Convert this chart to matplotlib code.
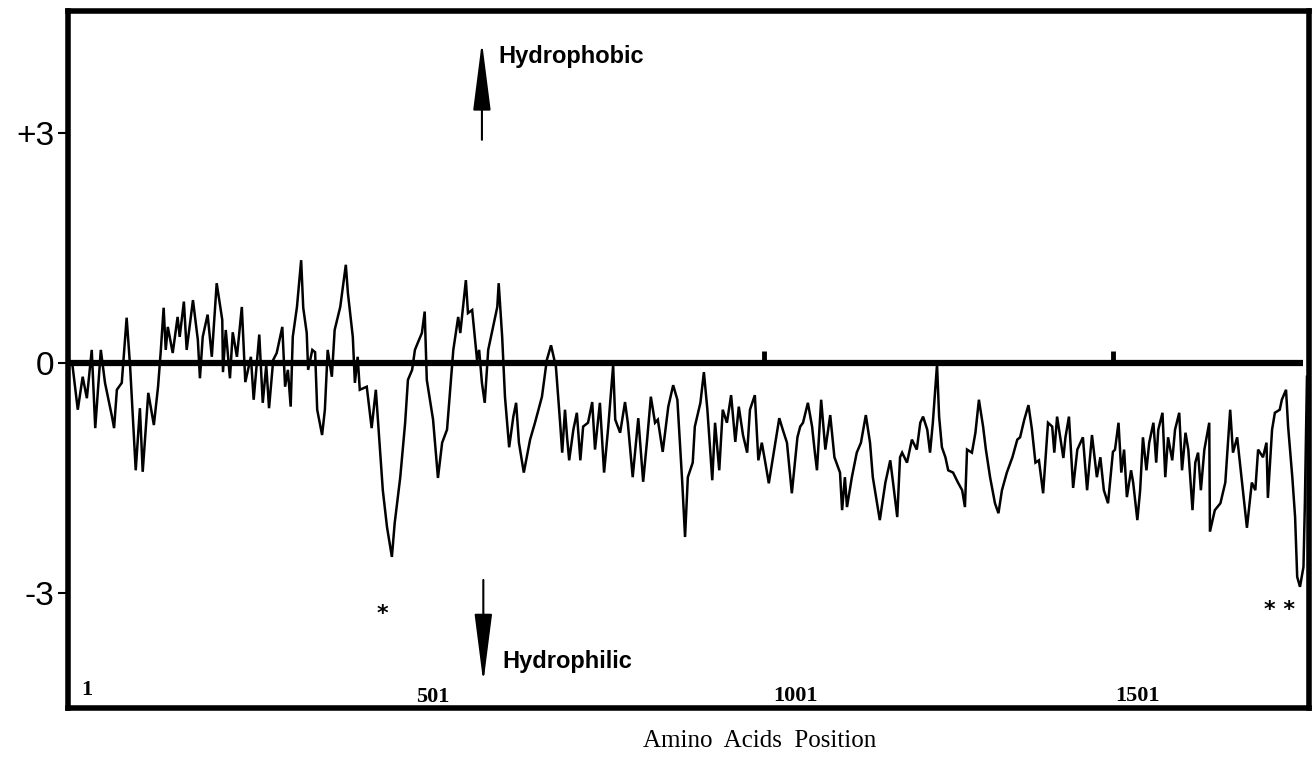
import matplotlib.pyplot as plt
import numpy as np

# hydropathy profile, residue number vs. score
pos_a = [9, 17, 24, 30, 37, 42, 50, 56, 66, 69, 73, 80, 87, 92, 100, 106, 110, 118, 126, 132,
         136, 140, 143, 146, 153, 160, 163, 169, 173, 182, 189, 192, 196, 203, 209, 216, 224, 225, 229, 235,
         239, 245, 252, 257, 265, 269, 277, 282, 287, 291, 297]
hyd_a = [0.00, -0.61, -0.18, -0.46, 0.17, -0.85, 0.17, -0.26, -0.70, -0.85, -0.35, -0.26, 0.59, -0.05, -1.40, -0.59, -1.42, -0.39, -0.81, -0.31,
         0.17, 0.72, 0.17, 0.47, 0.13, 0.60, 0.34, 0.80, 0.17, 0.82, 0.30, -0.20, 0.34, 0.63, 0.08, 1.04, 0.56, -0.12, 0.43, -0.20,
         0.40, 0.08, 0.73, -0.25, 0.08, -0.48, 0.37, -0.52, -0.03, -0.59, 0.04]

pos_b = [302, 310, 314, 318, 322, 325, 331, 337, 340, 345, 347, 353, 357, 360, 367, 371, 375, 381, 385, 393,
         401, 404, 411, 414, 418, 421, 431, 438, 444, 450, 454, 460, 467, 471, 479, 486, 490, 496, 500, 504,
         510, 514, 517, 526, 533, 539, 546, 553, 555, 562, 565, 573, 576, 582, 589, 592, 596]
hyd_b = [0.13, 0.47, -0.31, -0.09, -0.57, 0.34, 0.73, 1.34, 0.72, 0.39, -0.09, 0.17, 0.14, -0.61, -0.94, -0.61, 0.17, -0.18, 0.43, 0.73,
         1.28, 0.91, 0.34, -0.26, 0.08, -0.35, -0.31, -0.85, -0.35, -1.13, -1.66, -2.14, -2.53, -2.09, -1.49, -0.78, -0.22, -0.09, 0.17, 0.26,
         0.39, 0.67, -0.22, -0.74, -1.50, -1.04, -0.87, -0.05, 0.17, 0.60, 0.39, 1.08, 0.65, 0.69, 0.04, 0.17, -0.26]

pos_c = [600, 605, 612, 618, 620, 625, 629, 635, 641, 645, 649, 656, 665, 672, 682, 689, 695, 702, 708, 711,
         715, 718, 721, 727, 732, 737, 741, 748, 754, 758, 765, 771, 777, 784, 787, 794, 801, 805, 812, 820,
         827, 833, 838, 844, 848, 855, 863, 870, 876, 883, 887, 891, 898]
hyd_c = [-0.52, 0.17, 0.47, 0.73, 1.04, 0.34, -0.44, -1.10, -0.70, -0.52, -1.04, -1.43, -1.00, -0.78, -0.44, 0.04, 0.23, -0.05, -0.78, -1.17,
         -0.61, -0.97, -1.27, -0.87, -0.65, -1.27, -0.83, -0.78, -0.51, -1.13, -0.52, -1.43, -0.83, -0.03, -0.74, -0.91, -0.51, -0.78, -1.49, -0.72,
         -1.55, -0.97, -0.44, -0.78, -0.74, -1.16, -0.57, -0.29, -0.48, -1.56, -2.27, -1.49, -1.30]

pos_d = [901, 909, 914, 919, 926, 930, 936, 941, 947, 953, 959, 964, 970, 976, 980, 987, 992, 997, 1002, 1007,
         1013, 1022, 1027, 1033, 1040, 1048, 1052, 1056, 1063, 1069, 1073, 1076, 1082, 1088, 1095, 1101, 1109, 1112, 1116, 1119,
         1126, 1133, 1139, 1146, 1152, 1156, 1166, 1174, 1181, 1185, 1191, 1195]
hyd_d = [-0.83, -0.52, -0.12, -0.61, -1.53, -0.78, -1.40, -0.61, -0.78, -0.42, -1.03, -0.57, -0.94, -1.17, -0.61, -0.42, -1.27, -1.04, -1.30, -1.57,
         -1.23, -0.72, -0.87, -1.04, -1.70, -0.97, -0.83, -0.78, -0.52, -0.83, -1.17, -1.40, -0.48, -1.13, -0.68, -1.23, -1.43, -1.92, -1.49, -1.88,
         -1.49, -1.17, -1.04, -0.68, -1.04, -1.49, -2.05, -1.56, -1.27, -1.56, -2.01, -1.23]

pos_e = [1198, 1205, 1212, 1219, 1224, 1228, 1234, 1238, 1242, 1248, 1251, 1255, 1260, 1264, 1271, 1278, 1284, 1288, 1291, 1298,
         1303, 1308, 1314, 1318, 1324, 1331, 1336, 1341, 1348, 1356, 1363, 1367, 1373, 1379, 1384, 1389, 1394, 1400, 1407, 1413,
         1416, 1420, 1429, 1432, 1437, 1443, 1449, 1457, 1463, 1470, 1477, 1482]
hyd_e = [-1.17, -1.30, -1.00, -1.13, -0.78, -0.70, -0.87, -1.17, -0.78, -0.02, -0.70, -1.10, -1.23, -1.40, -1.43, -1.56, -1.66, -1.88, -1.13, -1.17,
         -0.91, -0.48, -0.83, -1.13, -1.49, -1.83, -1.96, -1.66, -1.43, -1.23, -1.00, -0.97, -0.74, -0.55, -0.87, -1.30, -1.27, -1.70, -0.78, -0.83,
         -1.17, -0.70, -1.24, -0.97, -0.70, -1.63, -1.13, -0.97, -1.66, -0.94, -1.49, -1.23]

pos_f = [1487, 1493, 1500, 1503, 1508, 1512, 1516, 1520, 1526, 1529, 1535, 1539, 1543, 1548, 1552, 1558, 1562, 1565, 1571, 1575,
         1579, 1585, 1589, 1595, 1599, 1604, 1608, 1614, 1618, 1622, 1626, 1631, 1638, 1639, 1646, 1654, 1661, 1668, 1672, 1678,
         1685, 1692, 1699, 1704, 1708, 1715, 1720, 1722, 1728, 1732, 1739, 1742, 1748, 1751, 1757, 1761, 1764, 1768, 1773, 1775,
         1778]
hyd_f = [-1.66, -1.83, -1.16, -1.13, -0.78, -1.43, -1.13, -1.75, -1.40, -1.56, -2.05, -1.66, -0.97, -1.40, -1.04, -0.78, -1.30, -0.87, -0.65, -1.49,
         -0.97, -1.27, -0.87, -0.65, -1.40, -0.91, -1.13, -1.92, -1.30, -1.17, -1.66, -1.13, -0.78, -2.20, -1.92, -1.83, -1.56, -0.61, -1.17, -0.97,
         -1.56, -2.15, -1.56, -1.66, -1.13, -1.23, -1.04, -1.76, -0.87, -0.65, -0.61, -0.48, -0.35, -0.83, -1.49, -2.01, -2.79, -2.92, -2.66, -1.83,
         -0.18]

res_labels = ['1', '501', '1001', '1501']
marks = [1000, 1500]

pos = np.concatenate([pos_a, pos_b, pos_c, pos_d, pos_e, pos_f])
hyd = np.concatenate([hyd_a, hyd_b, hyd_c, hyd_d, hyd_e, hyd_f])

fig = plt.figure(figsize=(13.13, 7.63), dpi=100)
ax = fig.add_axes([0.0518, 0.0721, 0.9452, 0.9135])

ax.plot(pos, hyd, color='black', lw=1.8, solid_joinstyle='miter')
ax.hlines(0, 3, 1773, color='black', lw=4.5)
ax.vlines(marks, 0, 0.15, color='black', lw=3.5)

ax.set_xlim(3, 1781)
ax.set_ylim(-4.50, 4.59)
for s in ax.spines.values():
    s.set_linewidth(4)

ax.set_xticks([])
ax.set_yticks([-3, 0, 3], ['-3', '0', '+3'])
ax.tick_params(axis='y', length=7, width=1.5, pad=3, labelsize=24)
for t in ax.get_yticklabels():
    t.set_family('Liberation Sans')

# residue numbers printed inside the frame
for lab, x, y in zip(res_labels, [30, 525, 1045, 1535], [-4.27, -4.36, -4.34, -4.34]):
    ax.text(x, y, lab, ha='center', va='center', fontsize=16,
            fontweight='bold', family='Liberation Serif')

# direction arrows
ax.annotate('', xy=(596, 4.19), xytext=(596, 2.91),
            arrowprops=dict(arrowstyle='-|>,head_length=4.3,head_width=0.55',
                            color='black', lw=1.5, shrinkA=0, shrinkB=0))
ax.annotate('', xy=(598, -4.17), xytext=(598, -2.83),
            arrowprops=dict(arrowstyle='-|>,head_length=4.3,head_width=0.55',
                            color='black', lw=1.5, shrinkA=0, shrinkB=0))
ax.text(619, 3.99, 'Hydrophobic', ha='left', va='center', fontsize=17,
        fontweight='bold', family='Liberation Sans')
ax.text(625, -3.90, 'Hydrophilic', ha='left', va='center', fontsize=17,
        fontweight='bold', family='Liberation Sans')

ax.text(454, -3.27, '*', ha='center', va='center', fontsize=16, fontweight='bold')
ax.text(1738, -3.22, '* *', ha='center', va='center', fontsize=16, fontweight='bold')

fig.text(760 / 1313, 1 - 741 / 763, 'Amino  Acids  Position', ha='center', va='center',
         fontsize=18, family='Liberation Serif')

plt.savefig('out.png', dpi=100)
